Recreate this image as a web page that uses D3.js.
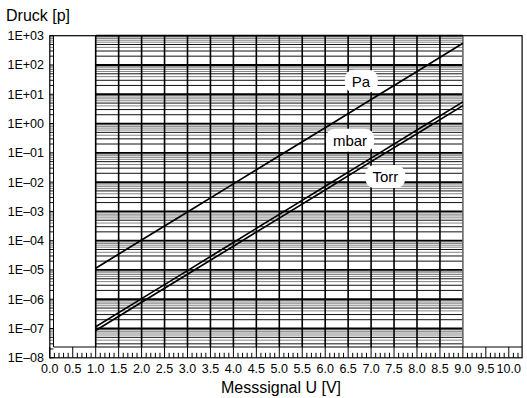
<!DOCTYPE html>
<html><head><meta charset="utf-8">
<script src="https://cdn.jsdelivr.net/npm/d3@7"></script>
<style>
html,body{margin:0;padding:0;background:#fff;}
text{font-family:"Liberation Sans",Arial,sans-serif;fill:#000;}
</style></head>
<body>
<script>
// ---- data ----
const voltages = [1, 2, 3, 4, 5, 6, 7, 8, 9];
const paValues   = [1.15e-5, 1.05e-4, 9.5e-4, 8.7e-3, 7.9e-2, 0.72, 6.6, 60, 550];
const mbarValues = [1.15e-7, 1.05e-6, 9.5e-6, 8.7e-5, 7.9e-4, 7.2e-3, 6.6e-2, 0.6, 5.5];
const torrValues = [8.6e-8, 7.9e-7, 7.1e-6, 6.5e-5, 5.9e-4, 5.4e-3, 5.0e-2, 0.45, 4.1];
const seriesNames = ["Pa", "mbar", "Torr"];
const labelU = [6.78, 6.54, 7.31];
const labelP = [28, 0.27, 0.0155];
const yTickLabels = ["1E+03","1E+02","1E+01","1E+00","1E\u201301","1E\u201302","1E\u201303","1E\u201304","1E\u201305","1E\u201306","1E\u201307","1E\u201308"];
const yTickValues = [1e3,1e2,1e1,1e0,1e-1,1e-2,1e-3,1e-4,1e-5,1e-6,1e-7,1e-8];
const xTickValues = [0,0.5,1,1.5,2,2.5,3,3.5,4,4.5,5,5.5,6,6.5,7,7.5,8,8.5,9,9.5,10];
const gridMultipliers = [1, 2, 3, 4, 5, 6, 7, 8, 9];
const xDomain = [0, 10.29];
const gridRange = [1, 9];
const yTitle = "Druck [p]";
const xTitle = "Messsignal U [V]";

// ---- layout ----
const W = 527, H = 398;
const L = 49.8, R = 522.1, T = 35.7, B = 357.8;
const stripB = 347;   // top of bottom tick strip
const stripL = 53.5;  // right of left tick strip

const svg = d3.select("body").append("svg").attr("width", W).attr("height", H);
svg.append("rect").attr("width", W).attr("height", H).attr("fill", "#fff");

const x = d3.scaleLinear().domain(xDomain).range([L, R]);
const y = d3.scaleLog().domain([1e-8, 1e3]).range([B, T]);

// grid values
const grid = [];
for (let n = -8; n <= 2; n++) {
  gridMultipliers.forEach(k => grid.push({v: k * Math.pow(10, n), k}));
}
grid.push({v: 1e3, k: 1});
const gColor = d => d.k === 1 ? "#000" : (d.k >= 6 || d.k === 4) ? "#858585" : "#111";
const gWidth = d => d.k === 1 ? 1.8 : 1;

const g = svg.append("g");
const inGrid = d => y(d.v) <= stripB + 0.01 && y(d.v) >= T - 0.01;
g.selectAll(".hg").data(grid.filter(inGrid).sort((a, b) => (a.k === 1) - (b.k === 1))).enter().append("line")
  .attr("x1", x(gridRange[0])).attr("x2", x(gridRange[1]))
  .attr("y1", d => y(d.v)).attr("y2", d => y(d.v))
  .attr("stroke", gColor).attr("stroke-width", gWidth);
// vertical grid
const vgrid = d3.range(gridRange[0], gridRange[1] + 0.001, 0.5);
g.selectAll(".vg").data(vgrid).enter().append("line")
  .attr("x1", d => x(d)).attr("x2", d => x(d))
  .attr("y1", T).attr("y2", stripB)
  .attr("stroke", d => d === gridRange[1] ? "#666" : "#000").attr("stroke-width", 1.6);

// left tick strip
g.selectAll(".lt").data(grid.filter(d => y(d.v) >= T && y(d.v) <= B)).enter().append("line")
  .attr("x1", L).attr("x2", stripL)
  .attr("y1", d => y(d.v)).attr("y2", d => y(d.v))
  .attr("stroke", gColor).attr("stroke-width", 1);
// white box borders
g.append("line").attr("x1", stripL).attr("x2", stripL).attr("y1", T).attr("y2", stripB).attr("stroke", "#000").attr("stroke-width", 1);
g.append("line").attr("x1", stripL).attr("x2", R).attr("y1", stripB).attr("y2", stripB).attr("stroke", "#000").attr("stroke-width", 1);

// bottom tick strip
const minorX = d3.range(0, 103).map(i => i / 10).filter(v => v <= xDomain[1]);
g.selectAll(".bt").data(minorX).enter().append("line")
  .attr("x1", d => x(d)).attr("x2", d => x(d))
  .attr("y1", B).attr("y2", d => (Math.round(d * 10) % 5 === 0) ? stripB : B - 5)
  .attr("stroke", "#000").attr("stroke-width", 1);

// frame
svg.append("rect").attr("x", L).attr("y", T).attr("width", R - L).attr("height", B - T)
  .attr("fill", "none").attr("stroke", "#000").attr("stroke-width", 1.2);

// series lines
const series = [paValues, mbarValues, torrValues];
const line = d3.line().x((d, i) => x(voltages[i])).y(d => y(d));
svg.selectAll(".ser").data(series).enter().append("path")
  .attr("d", d => line(d)).attr("fill", "none").attr("stroke", "#000").attr("stroke-width", 1.7);

// series labels
const lab = svg.selectAll(".lab").data(seriesNames).enter().append("g")
  .attr("transform", (d, i) => `translate(${x(labelU[i])},${y(labelP[i])})`);
lab.append("text").attr("text-anchor", "middle").attr("dy", "0.36em")
  .style("font-size", "15px").text(d => d)
  .each(function () {
    const bb = this.getBBox();
    d3.select(this.parentNode).insert("rect", "text")
      .attr("x", bb.x - 7).attr("y", -11.5).attr("width", bb.width + 14).attr("height", 23)
      .attr("rx", 9).attr("fill", "#fff");
  });

// y tick labels
svg.selectAll(".yl").data(yTickValues).enter().append("text")
  .attr("x", 44).attr("y", d => y(d)).attr("dy", "0.36em").attr("text-anchor", "end")
  .style("font-size", "12.5px").text((d, i) => yTickLabels[i]);
// x tick labels
svg.selectAll(".xl").data(xTickValues).enter().append("text")
  .attr("x", d => x(d)).attr("y", 373).attr("text-anchor", "middle")
  .style("font-size", "12.5px").text(d => d.toFixed(1));

// titles
svg.append("text").attr("x", 6).attr("y", 21).style("font-size", "16px").text(yTitle);
svg.append("text").attr("x", 281).attr("y", 392.5).attr("text-anchor", "middle").style("font-size", "16px").text(xTitle);
</script>
</body></html>
